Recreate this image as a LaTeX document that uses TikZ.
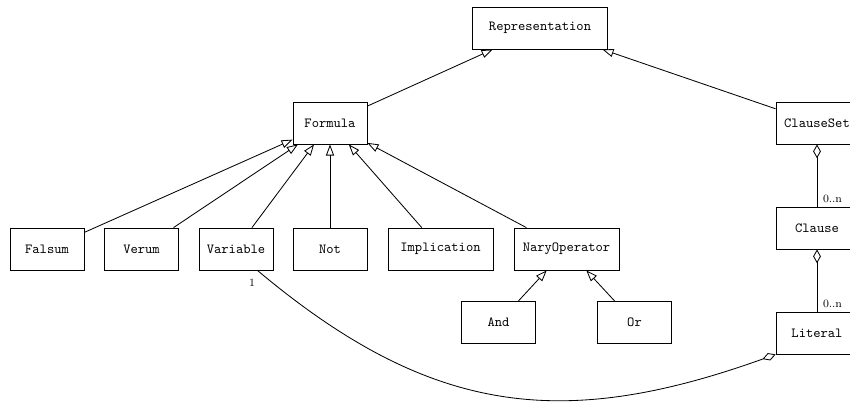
\documentclass[tikz,border=0pt]{standalone}
\usetikzlibrary{arrows.meta}
\newdimen\pxu \pxu=0.72pt
\begin{document}
\begin{tikzpicture}[x=0.72pt, y=-0.72pt,
  cls/.style={draw, line width=0.6pt, minimum height=42\pxu, minimum width=74\pxu,
              inner sep=0pt, font=\ttfamily},
  inherit/.style={-{Triangle[open, length=8pt, width=5.8pt]}, line width=0.6pt},
  aggr/.style={{Diamond[open, length=10pt, width=5.6pt]}-, line width=0.6pt},
  mult/.style={font=\footnotesize, inner sep=0pt}]
\clip (0,0) rectangle (850,401);

% class boxes
\node[cls, minimum width=135\pxu] (rep) at (540,28) {Representation};
\node[cls] (formula) at (330,123) {Formula};
\node[cls, minimum width=82\pxu] (clauseset) at (817,123) {ClauseSet};
\node[cls, minimum width=82\pxu] (clause) at (817,228) {Clause};
\node[cls, minimum width=82\pxu] (literal) at (817,333) {Literal};

\node[cls] (falsum) at (47,249) {Falsum};
\node[cls] (verum) at (141.5,249) {Verum};
\node[cls] (variable) at (236,249) {Variable};
\node[cls] (not) at (330,249) {Not};
\node[cls, minimum width=105\pxu] (impl) at (440.5,249) {Implication};
\node[cls, minimum width=105\pxu] (nary) at (566.5,249) {NaryOperator};

\node[cls] (and) at (498.5,322.5) {And};
\node[cls] (or) at (634.5,322.5) {Or};

% generalisations
\draw[inherit] (formula) -- (rep);
\draw[inherit] (clauseset) -- (rep);
\foreach \c in {falsum, verum, variable, not, impl, nary}
  \draw[inherit] (\c) -- (formula);
\draw[inherit] (and) -- (nary);
\draw[inherit] (or) -- (nary);

% aggregations
\draw[aggr] (clauseset) -- (clause);
\draw[aggr] (clause) -- (literal);
\draw[aggr] (literal.south west) .. controls (563,430.6) and (431,416) .. (variable.-45);

% multiplicities
\node[mult] (mvar) at (252,283) {1};
\node[mult] (mclause) at (832.5,199) {0..n};
\node[mult] (mliteral) at (832.5,304) {0..n};
\end{tikzpicture}
\end{document}
